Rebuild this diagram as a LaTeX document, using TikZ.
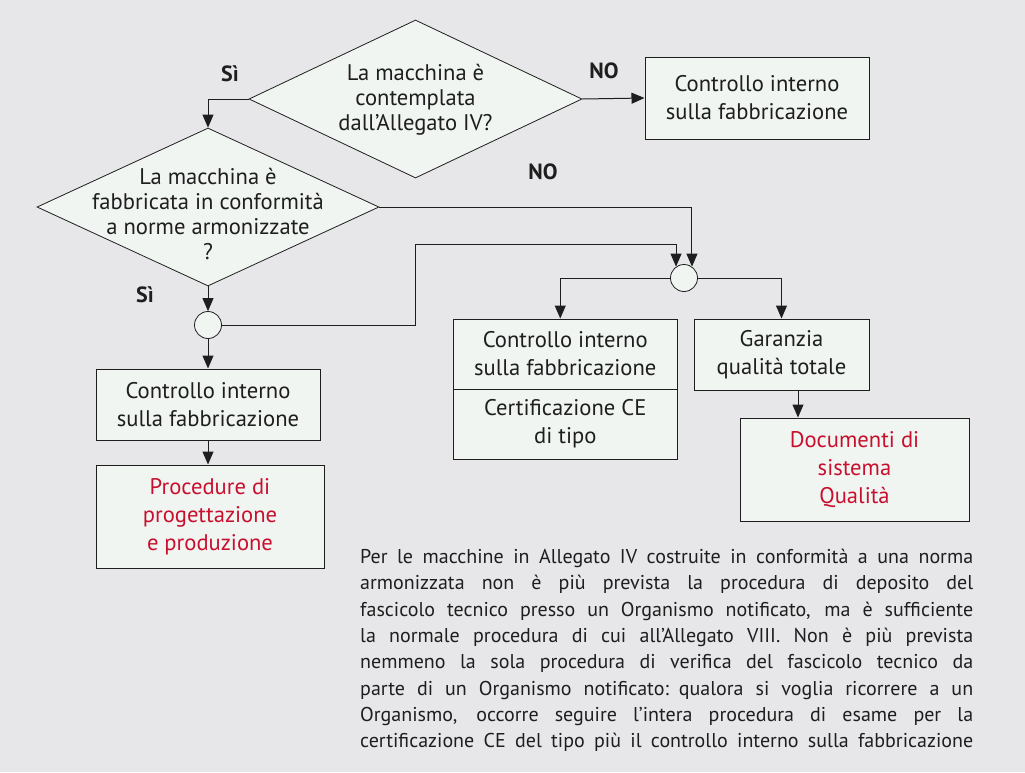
\documentclass[tikz,border=0pt]{standalone}
\usepackage{fontspec}
\setmainfont{PT Sans}
\usetikzlibrary{shapes.geometric,arrows.meta,calc}
\definecolor{bgc}{RGB}{231,231,233}
\definecolor{fillc}{RGB}{241,245,242}
\definecolor{redt}{RGB}{200,16,46}
\definecolor{linec}{RGB}{30,30,30}
\newcommand\jline[1]{\makebox[613pt][s]{\spaceskip=0.22em plus 1fil minus 0.05em\relax #1}}
\tikzset{
  every node/.style={font=\fontsize{22.6}{28}\selectfont, text=linec},
  box/.style={draw=linec, line width=1pt, fill=fillc, rectangle, inner sep=0pt, align=center},
  dia/.style={draw=linec, line width=0.8pt, fill=fillc, diamond, inner sep=0pt},
  dtext/.style={align=center, inner sep=0pt, font=\fontsize{22.6}{25}\selectfont},
  junc/.style={draw=linec, line width=0.8pt, fill=fillc, circle, minimum size=27pt, inner sep=0pt},
  arr/.style={draw=linec, line width=1pt, -{Triangle[length=13pt,width=11pt]}},
  lbl/.style={font=\bfseries\fontsize{22}{25}\selectfont, inner sep=0pt},
  redtxt/.style={text=redt}
}
\begin{document}
\begin{tikzpicture}[x=1pt,y=-1pt]
\fill[bgc] (0,0) rectangle (1025,772);
\useasboundingbox (0,0) rectangle (1025,772);

% diamonds
\node[dia, minimum width=333pt, minimum height=158pt] (d1) at (415.5,99) {};
\node[dtext] (d1t) at (415.5,100) {La macchina è\\contemplata\\dall’Allegato IV?};
\node[dia, minimum width=342pt, minimum height=158pt] (d2) at (208,207) {};
\node[dtext] (d2t) at (208,214) {La macchina è\\fabbricata in conformità\\a norme armonizzate\\?};

% boxes
\node[box, minimum width=224pt, minimum height=82pt] (b1) at (757,98) {Controllo interno\\sulla fabbricazione};
\node[box, minimum width=224.5pt, minimum height=70pt] (b2a) at (565.25,354) {Controllo interno\\sulla fabbricazione};
\node[box, minimum width=224.5pt, minimum height=70pt] (b2b) at (565.25,424) {Certificazione CE\\di tipo};
\node[box, minimum width=175pt, minimum height=71pt] (b3) at (781.5,354.5) {Garanzia\\qualità totale};
\node[box, minimum width=229pt, minimum height=103pt, redtxt] (b4) at (854.5,469.5) {Documenti di\\sistema\\Qualità};
\node[box, minimum width=224pt, minimum height=71pt] (b5) at (208,404.5) {Controllo interno\\sulla fabbricazione};
\node[box, minimum width=228pt, minimum height=103pt, redtxt] (b6) at (210,516.5) {Procedure di\\progettazione\\e produzione};

% junctions
\node[junc] (c1) at (208,325) {};
\node[junc] (c2) at (684,278) {};

% labels
\node[lbl] (s1) at (230,74) {Sì};
\node[lbl] (s2) at (145,295) {Sì};
\node[lbl] (n1) at (604,71) {NO};
\node[lbl] (n2) at (543,172) {NO};

% connectors
\coordinate (j1) at (415,244);
\draw[arr] (d1.west) -| (d2.north);
\draw[arr] (d1.east) -- (b1.west);
\draw[arr] (d2.east) -| (c2.55);
\draw[arr] (c1.east) -| (j1) -| (c2.125);
\draw[arr] (c2.west) -| ([xshift=-5pt]b2a.north);
\draw[arr] (c2.east) -| (b3.north);
\draw[arr] ([xshift=16.5pt]b3.south) -- ([xshift=16.5pt]b3.south |- b4.north);
\draw[arr] (d2.south) -- (c1.north);
\draw[arr] (c1.south) -- (b5.north);
\draw[arr] (b5.south) -- (b5.south |- b6.north);

% paragraph
\node[anchor=north west, inner sep=0pt, text width=613pt, align=left,
      font=\fontsize{20}{26.3}\selectfont] (par) at (360,549) {%
\jline{Per le macchine in Allegato IV costruite in conformità a una norma}\\
\jline{armonizzata non è più prevista la procedura di deposito del}\\
\jline{fascicolo tecnico presso un Organismo notificato, ma è sufficiente}\\
\jline{la normale procedura di cui all’Allegato VIII. Non è più prevista}\\
\jline{nemmeno la sola procedura di verifica del fascicolo tecnico da}\\
\jline{parte di un Organismo notificato: qualora si voglia ricorrere a un}\\
\jline{Organismo, occorre seguire l’intera procedura di esame per la}\\
\jline{certificazione CE del tipo più il controllo interno sulla fabbricazione}};
\end{tikzpicture}
\end{document}
